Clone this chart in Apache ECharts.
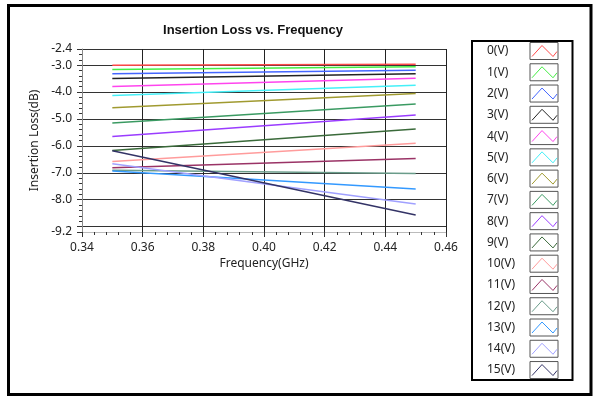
<!DOCTYPE html>
<html>
<head>
<meta charset="utf-8">
<script src="https://cdn.jsdelivr.net/npm/echarts@6/dist/echarts.min.js"></script>
<style>
  html, body { margin: 0; padding: 0; background: #fff; }
  #chart { width: 595px; height: 396px; }
</style>
</head>
<body>
<div id="chart"></div>
<script>
// bias voltages (legend names)
var voltages = ['0(V)', '1(V)', '2(V)', '3(V)', '4(V)', '5(V)', '6(V)', '7(V)',
  '8(V)', '9(V)', '10(V)', '11(V)', '12(V)', '13(V)', '14(V)', '15(V)']
// frequency sweep ends (GHz)
var freq = [0.35, 0.45]
// insertion loss (dB) read at 0.35 GHz and 0.45 GHz
var lossStart = [-3.00, -3.16, -3.32, -3.50, -3.79, -4.13, -4.58, -5.15,
  -5.65, -6.17, -6.58, -6.81, -6.91, -6.93, -6.66, -6.18]
var lossEnd = [-2.97, -3.06, -3.19, -3.32, -3.49, -3.75, -4.05, -4.44,
  -4.85, -5.37, -5.90, -6.47, -7.03, -7.60, -8.16, -8.57]
var colors = ['#ff4a4a', '#44ee44', '#4466ff', '#222222', '#ff44ee', '#44f0f8',
  '#a09a30', '#3a9a62', '#9a3cff', '#3a6a3a', '#ff9c9c', '#9a3366',
  '#6a9c8a', '#3399ff', '#a0a0ff', '#333366']

var chart = echarts.init(document.getElementById('chart'))

var series = voltages.map(function (name, i) {
  return {
    name: name,
    type: 'line',
    showSymbol: false,
    color: colors[i],
    lineStyle: { width: 1.5, color: colors[i] },
    emphasis: { disabled: true },
    data: [[freq[0], lossStart[i]], [freq[1], lossEnd[i]]]
  }
})

// both legends share this layout so the zigzags land inside the boxes
// (icon stroke adds 1px to each item's box, hence the 3.27 gap)
function legendBase(textColor) {
  return {
    orient: 'vertical',
    left: 472,
    top: 41,
    bottom: 0,
    padding: [1, 14, 1, 15],
    itemGap: 3.27,
    itemWidth: 28,
    itemHeight: 17,
    align: 'right',
    selectedMode: false,
    formatter: '{a|{name}}',
    textStyle: {
      fontSize: 12,
      lineHeight: 17,
      rich: {
        a: { width: 38, height: 17, lineHeight: 17, align: 'left', fontSize: 12, fontFamily: 'Noto Sans', color: textColor }
      }
    }
  }
}

var boxLegend = Object.assign(legendBase('#222'), {
  icon: 'rect',
  borderColor: '#000',
  borderWidth: 2,
  backgroundColor: '#fff',
  itemStyle: { color: '#fff', borderColor: '#555', borderWidth: 1 },
  data: voltages
})

// transparent fill keeps the zigzag's bounding box the same as the plain box
var zigLegend = Object.assign(legendBase('rgba(0,0,0,0)'), {
  z: 6,
  icon: 'path://M0,0 L0,0 M28,17 L28,17 M2,14 L12,3 L23,14 L27,9',
  data: voltages.map(function (name, i) {
    return { name: name, itemStyle: { color: 'rgba(255,255,255,0)', borderColor: colors[i], borderWidth: 1 } }
  })
})

var option = {
  animation: false,
  backgroundColor: '#fff',
  title: {
    text: 'Insertion Loss vs. Frequency',
    left: 253,
    top: 24,
    textAlign: 'center',
    padding: 0,
    textStyle: { fontSize: 13, fontWeight: 'bold', fontFamily: 'Liberation Sans', color: '#111' }
  },
  grid: { left: 82, top: 49, width: 364, height: 183 },
  xAxis: {
    type: 'value',
    min: 0.34,
    max: 0.46,
    interval: 0.02,
    name: 'Frequency(GHz)',
    nameLocation: 'middle',
    nameGap: 26,
    nameTextStyle: { fontSize: 12, fontFamily: 'Noto Sans', color: '#222' },
    axisLine: { show: true, lineStyle: { color: '#bbb' } },
    axisTick: { show: true, length: 5, lineStyle: { color: '#333' } },
    minorTick: { show: true, splitNumber: 5, length: 3, lineStyle: { color: '#333' } },
    axisLabel: {
      margin: 10, fontSize: 12, fontFamily: 'Noto Sans', color: '#222',
      formatter: function (v) { return v.toFixed(2) }
    },
    splitLine: { show: true, lineStyle: { color: '#222', width: 1 } }
  },
  yAxis: [{
    type: 'value',
    min: -9.2,
    max: -2.4,
    splitNumber: 7,
    name: 'Insertion Loss(dB)',
    nameLocation: 'middle',
    nameGap: 33,
    nameTextStyle: { fontSize: 12, fontFamily: 'Noto Sans', color: '#222' },
    axisLine: { show: true, lineStyle: { color: '#888' } },
    axisTick: { show: true, length: 5, lineStyle: { color: '#333' } },
    axisLabel: {
      margin: 10, fontSize: 12, fontFamily: 'Noto Sans', color: '#222',
      showMinLabel: true, showMaxLabel: true,
      formatter: function (v) { return Math.abs(v + 9) < 1e-6 ? '' : v.toFixed(1) }
    },
    splitLine: { show: true, lineStyle: { color: '#333', width: 1 } }
  }, {
    type: 'value',
    min: -9.2,
    max: -2.4,
    position: 'left',
    axisLine: { show: false },
    axisLabel: { show: false },
    splitLine: { show: false },
    axisTick: {
      show: true, length: 3, lineStyle: { color: '#333' },
      customValues: (function () {
        var v = []
        for (var k = 0; k <= 34; k++) v.push(Math.round((-9.2 + k * 0.2) * 10) / 10)
        return v
      })()
    }
  }],
  legend: [boxLegend, zigLegend],
  graphic: [{
    type: 'rect',
    silent: true,
    z: 100,
    shape: { x: 8.5, y: 5.5, width: 582.5, height: 389 },
    style: { fill: 'none', stroke: '#000', lineWidth: 3 }
  }],
  series: series
}

chart.setOption(option)
</script>
</body>
</html>
